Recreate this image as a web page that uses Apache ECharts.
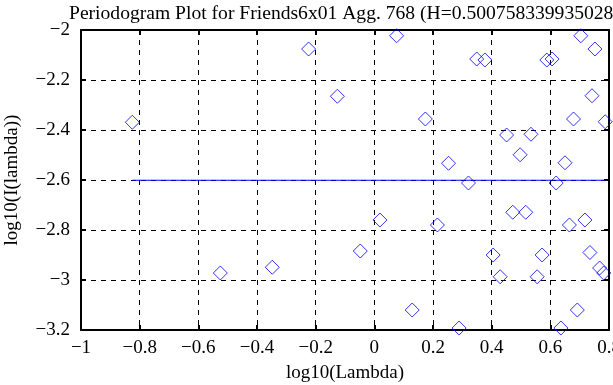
<!DOCTYPE html>
<html>
<head>
<meta charset="utf-8">
<script src="https://cdn.jsdelivr.net/npm/echarts@6/dist/echarts.min.js"></script>
<style>
html,body{margin:0;padding:0;background:#fff;}
#c{width:613px;height:385px;}
</style>
</head>
<body>
<div id="c"></div>
<script>
var titleText = 'Periodogram Plot for Friends6x01 Agg. 768 (H=0.500758339935028)';
var xName = 'log10(Lambda)';
var yName = 'log10(I(lambda))';
var xTicks = [-1, -0.8, -0.6, -0.4, -0.2, 0, 0.2, 0.4, 0.6, 0.8];
var yTicks = [-3.2, -3, -2.8, -2.6, -2.4, -2.2, -2];
var logLambda = [-0.825, -0.224, -0.126, 0.076, 0.349, 0.377, 0.588, 0.606, 0.704, 0.752,
  0.174, 0.742, 0.679, 0.787, 0.451, 0.534, 0.497, 0.253, 0.650,
  -0.525, -0.348, 0.321, 0.620, 0.019, 0.215, 0.472, 0.516, 0.665, 0.718,
  -0.048, 0.405, 0.572, 0.735, 0.768, 0.782, 0.429, 0.555, 0.129, 0.692, 0.289, 0.636];
var logI = [-2.369, -2.076, -2.265, -2.023, -2.116, -2.120, -2.120, -2.116, -2.023, -2.076,
  -2.356, -2.263, -2.356, -2.367, -2.420, -2.417, -2.499, -2.533, -2.531,
  -2.972, -2.949, -2.612, -2.612, -2.760, -2.780, -2.729, -2.729, -2.780, -2.760,
  -2.884, -2.900, -2.900, -2.890, -2.952, -2.972, -2.987, -2.987, -3.120, -3.120, -3.192, -3.192];
var fitX = [-0.825, 0.787];
var fitY = [-2.601, -2.601];

var points = logLambda.map(function (x, i) { return [x, logI[i]]; });
var fitLine = fitX.map(function (x, i) { return [x, fitY[i]]; });

var font = 'Liberation Serif';
var fs = 19;
function fmt(v) {
  var r = Math.round(v * 10) / 10;
  return String(r).replace('-', '\u2212');
}
var axisLine = { onZero: false, lineStyle: { color: '#000', width: 2 } };
var tick = { inside: true, length: 5, lineStyle: { color: '#000', width: 2 } };
var grid = { show: true, lineStyle: { color: '#000', type: [5, 5], width: 1 } };
var chart = echarts.init(document.getElementById('c'));
chart.setOption({
  animation: false,
  backgroundColor: '#fff',
  title: {
    text: titleText, left: 64, top: -1,
    textStyle: { fontFamily: font, fontSize: 19.6, fontWeight: 'normal', color: '#000' }
  },
  grid: { left: 81, right: 4, top: 30, bottom: 55, containLabel: false, outerBoundsMode: 'none' },
  xAxis: [{
    type: 'value', min: xTicks[0], max: xTicks[xTicks.length - 1], interval: 0.2,
    position: 'bottom',
    name: xName, nameLocation: 'middle', nameGap: 34,
    nameTextStyle: { fontFamily: font, fontSize: fs, color: '#000' },
    axisLine: axisLine, axisTick: tick,
    axisLabel: { fontFamily: font, fontSize: fs, color: '#000', margin: 9, formatter: fmt, hideOverlap: false },
    splitLine: grid
  }, {
    type: 'value', min: xTicks[0], max: xTicks[xTicks.length - 1], interval: 0.2,
    position: 'top',
    axisLine: axisLine, axisTick: tick,
    axisLabel: { show: false },
    splitLine: { show: false }
  }],
  yAxis: [{
    type: 'value', min: yTicks[0], max: yTicks[yTicks.length - 1], interval: 0.2,
    position: 'left',
    name: yName, nameLocation: 'middle', nameGap: 59, nameRotate: 90,
    nameTextStyle: { fontFamily: font, fontSize: fs, color: '#000' },
    axisLine: axisLine, axisTick: tick,
    axisLabel: { fontFamily: font, fontSize: fs, color: '#000', margin: 11, formatter: fmt },
    splitLine: grid
  }, {
    type: 'value', min: yTicks[0], max: yTicks[yTicks.length - 1], interval: 0.2,
    position: 'right',
    axisLine: axisLine, axisTick: tick,
    axisLabel: { show: false },
    splitLine: { show: false }
  }],
  series: [{
    type: 'scatter',
    data: points,
    symbol: 'diamond',
    symbolSize: 14,
    clip: false,
    itemStyle: { color: 'rgba(0,0,0,0)', borderColor: '#0000ff', borderWidth: 1 },
    z: 3
  }, {
    type: 'line',
    data: fitLine,
    symbol: 'none',
    lineStyle: { color: '#0000ff', width: 1 },
    z: 2
  }]
});
</script>
</body>
</html>
